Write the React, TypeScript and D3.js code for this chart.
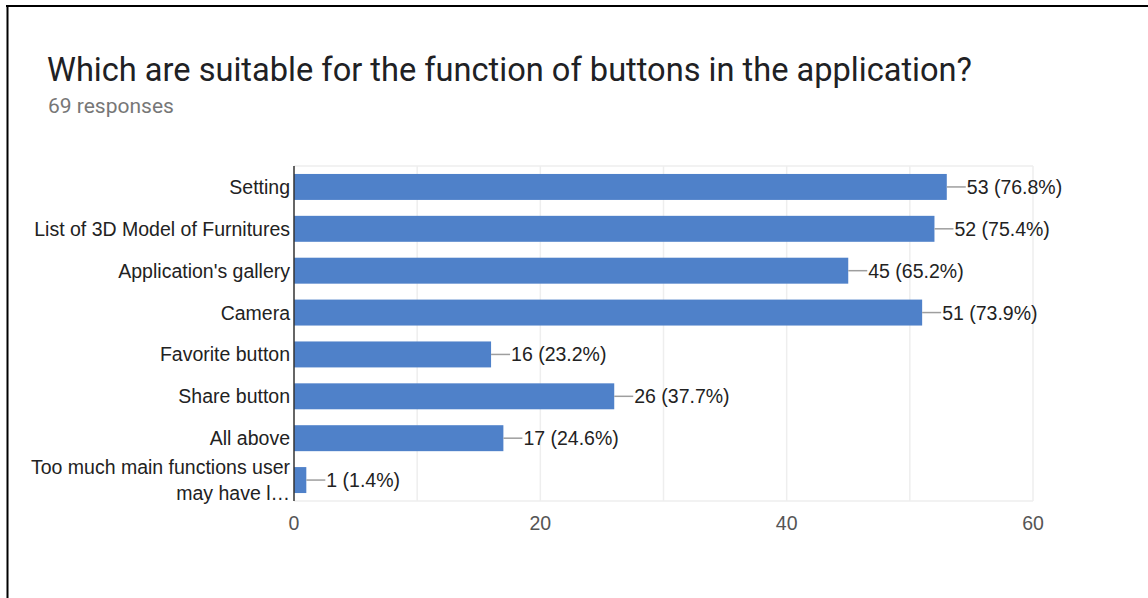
import React from "react";
import * as d3 from "d3";

const title = "Which are suitable for the function of buttons in the application?";
const subtitle = "69 responses";
const categories = [
  "Setting",
  "List of 3D Model of Furnitures",
  "Application's gallery",
  "Camera",
  "Favorite button",
  "Share button",
  "All above",
  "Too much main functions user|may have l…",
];
const counts = [53, 52, 45, 51, 16, 26, 17, 1];
const percents = ["76.8%", "75.4%", "65.2%", "73.9%", "23.2%", "37.7%", "24.6%", "1.4%"];
const majorTicks = [0, 20, 40, 60];
const minorTicks = [10, 30, 50];

export default function App() {
  const W = 1148, H = 598;
  const left = 294, right = 1033, top = 166, bottom = 501;
  const x = d3.scaleLinear().domain([0, 60]).range([left, right]);
  const y = d3.scaleBand().domain(categories).range([top, bottom]).paddingInner(0.38).paddingOuter(0.19);
  const font = "Arial, 'Liberation Sans', sans-serif";
  return (
    <svg width={W} height={H} style={{ position: "absolute", left: 0, top: 0, background: "#fff" }}>
      <rect x={0} y={0} width={W} height={H} fill="#fff" />
      <line x1={6} y1={6} x2={W} y2={6} stroke="#000" strokeWidth={2} />
      <line x1={7.5} y1={6} x2={7.5} y2={H} stroke="#000" strokeWidth={2} />
      <text x={47} y={81} fontFamily="Roboto, sans-serif" fontSize={32.6} fill="#202124">{title}</text>
      <text x={48} y={113} fontFamily="Roboto, sans-serif" fontSize={21} fill="#777">{subtitle}</text>
      {[...minorTicks, ...majorTicks.slice(1)].map((t) => (
        <line key={"g" + t} x1={x(t)} x2={x(t)} y1={top} y2={bottom} stroke="#eeeeee" strokeWidth={1.5} />
      ))}
      <line x1={left} x2={right} y1={top} y2={top} stroke="#eeeeee" strokeWidth={1.5} />
      <line x1={left} x2={right} y1={bottom} y2={bottom} stroke="#eeeeee" strokeWidth={1.5} />
      {categories.map((c, i) => {
        const by = y(c)!;
        const bh = y.bandwidth();
        const cy = by + bh / 2;
        const xe = x(counts[i]);
        const lines = c.split("|");
        return (
          <g key={c}>
            <rect x={left} y={by} width={xe - left} height={bh} fill="#4f81c9" />
            <line x1={xe} x2={xe + 19} y1={cy} y2={cy} stroke="#9e9e9e" strokeWidth={1.5} />
            <text x={xe + 20} y={cy} dy="0.36em" fontFamily={font} fontSize={19.5} fill="#222">
              {`${counts[i]} (${percents[i]})`}
            </text>
            {lines.map((l, k) => (
              <text key={k} x={290} y={cy + (k - (lines.length - 1) / 2) * 26} dy="0.36em" textAnchor="end"
                fontFamily={font} fontSize={19.5} fill="#222">{l}</text>
            ))}
          </g>
        );
      })}
      <line x1={left} x2={left} y1={top} y2={bottom} stroke="#333" strokeWidth={1.5} />
      {majorTicks.map((t) => (
        <text key={"t" + t} x={x(t)} y={523} dy="0.36em" textAnchor="middle" fontFamily={font} fontSize={19.5} fill="#555">{t}</text>
      ))}
    </svg>
  );
}
